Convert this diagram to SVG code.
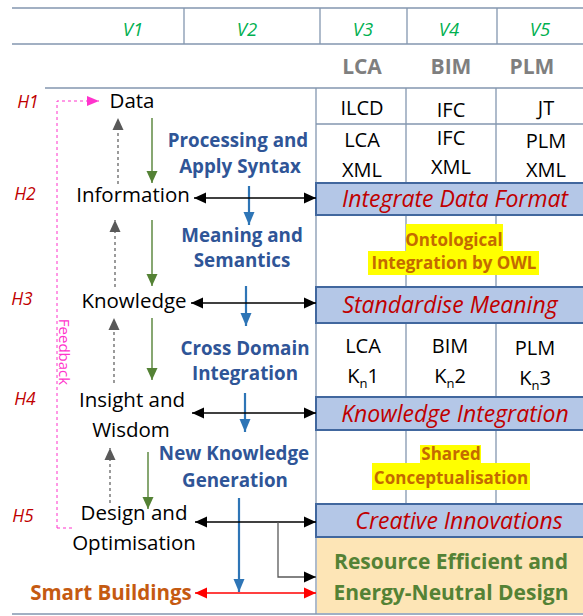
<svg xmlns="http://www.w3.org/2000/svg" width="583" height="616" viewBox="0 0 583 616">
<style>
text{font-family:"Open Sans","Liberation Sans",sans-serif}
.grid{stroke:#8497b0;stroke-width:1.3;fill:none}
.vh{fill:#00b050;font-style:italic;font-size:18.5px;text-anchor:middle}
.sh{fill:#7f7f7f;font-weight:bold;font-size:21px;text-anchor:middle}
.hl{fill:#c00000;font-style:italic;font-size:17.5px;text-anchor:middle}
.lv{fill:#000;font-size:20.5px;text-anchor:middle}
.cell{fill:#000;font-size:20px;text-anchor:middle}
.proc{fill:#2f5597;font-weight:bold;font-size:18.8px;text-anchor:middle}
.band{fill:#b4c7e7;stroke:#41679e;stroke-width:2}
.bt{fill:#c00000;font-style:italic;font-size:23px;text-anchor:middle}
.onto{fill:#c46a00;font-weight:bold;font-size:17px;text-anchor:middle}
.hi{fill:#ffff00}
.res{fill:#548235;font-weight:bold;font-size:21px;text-anchor:middle}
.green{stroke:#548235;stroke-width:1.4;fill:none}
.gray{stroke:#595959;stroke-width:1.2;stroke-dasharray:3,3;fill:none}
.blue{stroke:#2e75b6;stroke-width:2.2;fill:none}
.blk{stroke:#000;stroke-width:1.3;fill:none}
.red{stroke:#ff0000;stroke-width:1.3;fill:none}
.fb{stroke:#ff33cc;stroke-width:1;stroke-dasharray:3,3;fill:none}
</style>
<defs>
<marker id="ag" markerUnits="userSpaceOnUse" markerWidth="12" markerHeight="12" viewBox="0 0 12 12" refX="12" refY="6" orient="auto"><path d="M0,0.5 L12,6 L0,11.5 Z" fill="#548235"/></marker>
<marker id="agr" markerUnits="userSpaceOnUse" markerWidth="12" markerHeight="12" viewBox="0 0 12 12" refX="12" refY="6" orient="auto"><path d="M0,0.5 L12,6 L0,11.5 Z" fill="#595959"/></marker>
<marker id="ab" markerUnits="userSpaceOnUse" markerWidth="13" markerHeight="12" viewBox="0 0 13 12" refX="13" refY="6" orient="auto"><path d="M0,0.5 L13,6 L0,11.5 Z" fill="#2e75b6"/></marker>
<marker id="ak" markerUnits="userSpaceOnUse" markerWidth="12" markerHeight="12" viewBox="0 0 12 12" refX="12" refY="6" orient="auto-start-reverse"><path d="M0,0.5 L12,6 L0,11.5 Z" fill="#000"/></marker>
<marker id="ar" markerUnits="userSpaceOnUse" markerWidth="12" markerHeight="12" viewBox="0 0 12 12" refX="12" refY="6" orient="auto-start-reverse"><path d="M0,0.5 L12,6 L0,11.5 Z" fill="#ff0000"/></marker>
<marker id="ap" markerUnits="userSpaceOnUse" markerWidth="12" markerHeight="12" viewBox="0 0 12 12" refX="12" refY="6" orient="auto"><path d="M0,1 L12,6 L0,11 Z" fill="#ff33cc"/></marker>
</defs>

<g id="table">
<path class="grid" d="M12,8 H583 M12,44 H583 M184,8 V44 M320,8 V44 M407,8 V44 M497,8 V44 M45,88 H583 M316,88 V614 M316,124 H583 M406,88 V183 M496,88 V183 M406,215 V287 M496,215 V287 M406,323 V397 M496,323 V397 M406,430 V504 M496,430 V504 M12,614 H583"/>
<text class="vh" x="133" y="36">V1</text>
<text class="vh" x="247" y="36">V2</text>
<text class="vh" x="363" y="36">V3</text>
<text class="vh" x="449" y="36">V4</text>
<text class="vh" x="540" y="36">V5</text>
<text class="sh" x="362" y="74">LCA</text>
<text class="sh" x="451" y="74">BIM</text>
<text class="sh" x="532" y="74">PLM</text>
</g>

<g id="h-labels">
<text class="hl" x="28" y="108">H1</text>
<text class="hl" x="25" y="200">H2</text>
<text class="hl" x="22" y="305">H3</text>
<text class="hl" x="25" y="405">H4</text>
<text class="hl" x="23" y="522">H5</text>
</g>

<g id="formats">
<text class="cell" x="362" y="115">ILCD</text>
<text class="cell" x="451" y="117">IFC</text>
<text class="cell" x="546" y="115">JT</text>
<text class="cell" x="362" y="147">LCA</text>
<text class="cell" x="362" y="177">XML</text>
<text class="cell" x="451" y="145">IFC</text>
<text class="cell" x="451" y="174">XML</text>
<text class="cell" x="546" y="148">PLM</text>
<text class="cell" x="546" y="177">XML</text>
</g>

<g id="band-integrate">
<rect class="band" x="316" y="183" width="272" height="32"/>
<text class="bt" x="455" y="207">Integrate Data Format</text>
</g>

<g id="ontological">
<rect class="hi" x="406" y="224" width="97" height="27"/>
<rect class="hi" x="368" y="251" width="171" height="24"/>
<text class="onto" x="454" y="246">Ontological</text>
<text class="onto" x="454" y="269">Integration by OWL</text>
</g>

<g id="band-standardise">
<rect class="band" x="316" y="287" width="272" height="36"/>
<text class="bt" x="450" y="313">Standardise Meaning</text>
</g>

<g id="knowledge-cells">
<text class="cell" x="363" y="353">LCA</text>
<text class="cell" x="363" y="383">K<tspan font-size="13" dy="5">n</tspan><tspan dy="-5">1</tspan></text>
<text class="cell" x="450" y="353">BIM</text>
<text class="cell" x="450" y="383">K<tspan font-size="13" dy="5">n</tspan><tspan dy="-5">2</tspan></text>
<text class="cell" x="535" y="355">PLM</text>
<text class="cell" x="535" y="385">K<tspan font-size="13" dy="5">n</tspan><tspan dy="-5">3</tspan></text>
</g>

<g id="band-knowledge">
<rect class="band" x="316" y="397" width="272" height="33"/>
<text class="bt" x="455" y="422">Knowledge Integration</text>
</g>

<g id="shared">
<rect class="hi" x="420" y="445" width="61" height="18"/>
<rect class="hi" x="372" y="463" width="158" height="27"/>
<text class="onto" x="451" y="460">Shared</text>
<text class="onto" x="451" y="484">Conceptualisation</text>
</g>

<g id="band-creative">
<rect class="band" x="316" y="504" width="272" height="33"/>
<text class="bt" x="459" y="529">Creative Innovations</text>
</g>

<g id="resource">
<rect x="317" y="538" width="266" height="75" fill="#fde5b6"/>
<text class="res" x="451" y="569">Resource Efficient and</text>
<text class="res" x="451" y="600">Energy-Neutral Design</text>
</g>

<g id="levels">
<text class="lv" x="132" y="108">Data</text>
<text class="lv" x="133" y="202">Information</text>
<text class="lv" x="134" y="308">Knowledge</text>
<text class="lv" x="132" y="407">Insight and</text>
<text class="lv" x="131" y="437">Wisdom</text>
<text class="lv" x="134" y="520">Design and</text>
<text class="lv" x="134" y="550">Optimisation</text>
</g>

<g id="processes">
<text class="proc" x="238" y="147">Processing and</text>
<text class="proc" x="240" y="173">Apply Syntax</text>
<text class="proc" x="242" y="242">Meaning and</text>
<text class="proc" x="242" y="267">Semantics</text>
<text class="proc" x="245" y="355">Cross Domain</text>
<text class="proc" x="245" y="380">Integration</text>
<text class="proc" x="234" y="460">New Knowledge</text>
<text class="proc" x="235" y="487">Generation</text>
</g>

<g id="smart-buildings">
<text x="111" y="600" fill="#c55a11" font-weight="bold" font-size="20.5px" text-anchor="middle">Smart Buildings</text>
</g>

<g id="feedback">
<path class="fb" d="M57,528 V101 H99" marker-end="url(#ap)"/>
<path class="fb" d="M57,528 H73"/>
<text transform="translate(59,352) rotate(90)" fill="#ff33cc" font-size="15px" text-anchor="middle">Feedback</text>
</g>

<g id="connectors">
<path class="green" d="M152,118 V183" marker-end="url(#ag)"/>
<path class="green" d="M152,220 V286" marker-end="url(#ag)"/>
<path class="green" d="M152,318 V380" marker-end="url(#ag)"/>
<path class="green" d="M148,452 V509" marker-end="url(#ag)"/>
<path class="gray" d="M118,184 V118" marker-end="url(#agr)"/>
<path class="gray" d="M115,287 V220" marker-end="url(#agr)"/>
<path class="gray" d="M114,383 V318" marker-end="url(#agr)"/>
<path class="gray" d="M110,503 V448" marker-end="url(#agr)"/>
<path class="blue" d="M249,186 V225" marker-end="url(#ab)"/>
<path class="blue" d="M246,286 V326" marker-end="url(#ab)"/>
<path class="blue" d="M245,393 V432" marker-end="url(#ab)"/>
<path class="blue" d="M239,498 V592" marker-end="url(#ab)"/>
<path class="blk" d="M194,198 H316" marker-start="url(#ak)" marker-end="url(#ak)"/>
<path class="blk" d="M191,303 H316" marker-start="url(#ak)" marker-end="url(#ak)"/>
<path class="blk" d="M192,413 H316" marker-start="url(#ak)" marker-end="url(#ak)"/>
<path class="blk" d="M195,522 H316" marker-start="url(#ak)" marker-end="url(#ak)"/>
<path d="M278,522 V577 H316" stroke="#595959" stroke-width="1.3" fill="none" marker-end="url(#ak)"/>
<path class="red" d="M195,593 H316" marker-start="url(#ar)" marker-end="url(#ar)"/>
</g>
</svg>
